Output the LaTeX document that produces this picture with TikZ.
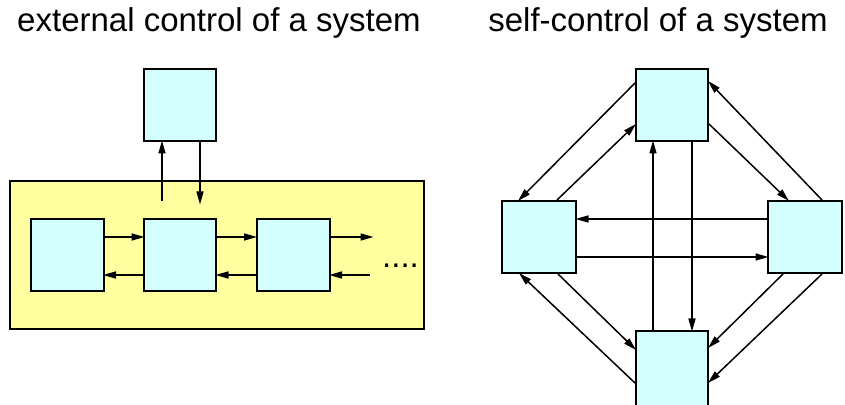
\documentclass[tikz,border=0pt]{standalone}
\usepackage{fontspec}
\setmainfont{Liberation Sans}
\usepackage{tikz}
\usetikzlibrary{arrows.meta, positioning, calc}

\definecolor{unitcyan}{HTML}{D4FFFF}
\definecolor{sysyellow}{HTML}{FFFF9F}

\begin{document}
\begin{tikzpicture}[x=1pt, y=1pt, >={Triangle[length=13pt,width=7pt]},
    unit/.style={draw, line width=2pt, fill=unitcyan, inner sep=0pt,
                 minimum width=73pt, minimum height=72pt},
    link/.style={->, line width=1.5pt, shorten >=-1.5pt},
    heading/.style={font=\fontsize{33}{40}\selectfont}]
  \clip (0,0) rectangle (845,404);

  % titles
  \node[heading] (extTitle) at (219,381) {external control of a system};
  \node[heading] (selfTitle) at (658,381) {self-control of a system};

  % external control: controller above a chain of units
  \node[draw, line width=2pt, fill=sysyellow, minimum width=414pt,
        minimum height=148pt] (sys) at (217,149) {};
  \node[unit, minimum width=72pt] (ctl) at (180,299) {};
  \node[unit] (u1) at (67,149) {};
  \node[unit, minimum width=72pt] (u2) at (180,149) {};
  \node[unit] (u3) at (293,149) {};
  \coordinate (upFrom) at (162,203);
  \coordinate (downTo) at (200,201);
  \coordinate (outTo) at (372,167);
  \coordinate (inFrom) at (370,129);
  \node[heading, anchor=base west, inner sep=0pt] (more) at (382,136) {....};

  \draw[link] (upFrom) -- (upFrom |- ctl.south);
  \draw[link] (downTo |- ctl.south) -- (downTo);
  \draw[link] ([yshift=18]u1.east) -- ([yshift=18]u2.west);
  \draw[link] ([yshift=18]u2.east) -- ([yshift=18]u3.west);
  \draw[link] ([yshift=18]u3.east) -- (outTo);
  \draw[link] ([yshift=-20]u2.west) -- ([yshift=-20]u1.east);
  \draw[link] ([yshift=-20]u3.west) -- ([yshift=-20]u2.east);
  \draw[link] (inFrom) -- ([yshift=-20]u3.east);

  % self-control: four units talking to each other
  \node[unit, minimum width=72pt] (top) at (672,299) {};
  \node[unit, minimum width=74pt] (left) at (539,167) {};
  \node[unit, minimum width=74pt] (right) at (805,167) {};
  \node[unit, minimum width=72pt, minimum height=76pt] (bottom) at (672,35) {};

  \draw[link] ([yshift=-15]top.north west) -- ([xshift=-20]left.north);
  \draw[link] ([xshift=18]left.north) -- ([yshift=17]top.south west);
  \draw[link] ([xshift=17]right.north) -- ([yshift=-14]top.north east);
  \draw[link] ([yshift=18]top.south east) -- ([xshift=-17]right.north);
  \draw[link] ([yshift=18]right.west) -- ([yshift=18]left.east);
  \draw[link] ([yshift=-20]left.east) -- ([yshift=-20]right.west);
  \draw[link] ([xshift=-19]bottom.north) -- ([xshift=-19]top.south);
  \draw[link] ([xshift=20]top.south) -- ([xshift=20]bottom.north);
  \draw[link] ([xshift=19]left.south) -- ([yshift=-19]bottom.north west);
  \draw[link] ([yshift=-53]bottom.north west) -- ([xshift=-19]left.south);
  \draw[link] ([xshift=-22]right.south) -- ([yshift=-17]bottom.north east);
  \draw[link] ([xshift=17]right.south) -- ([yshift=-52]bottom.north east);
\end{tikzpicture}
\end{document}
